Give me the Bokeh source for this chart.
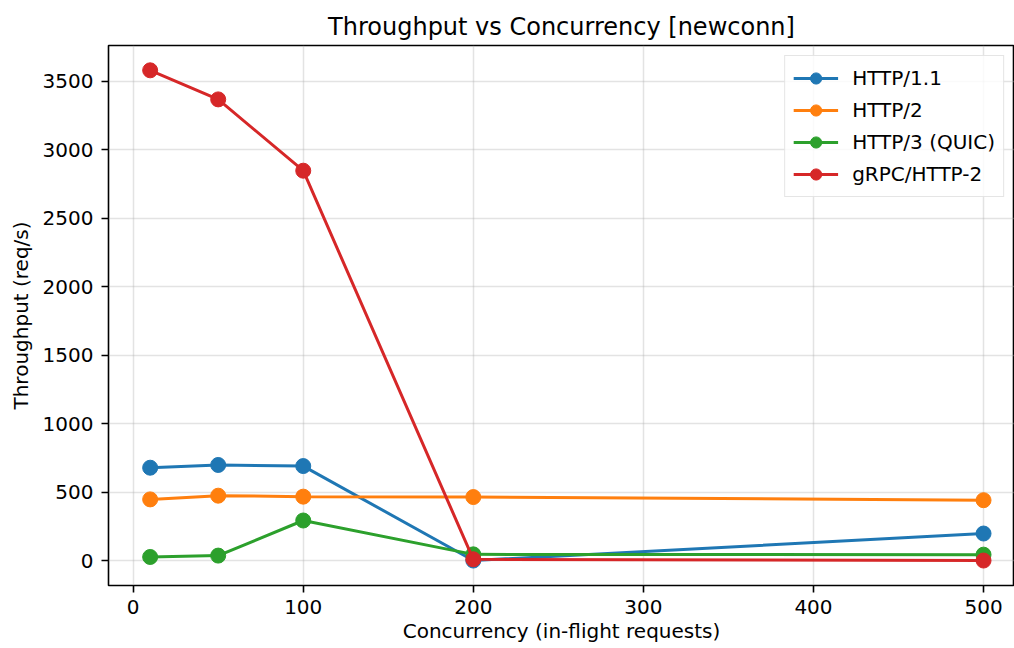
from bokeh.plotting import figure
from bokeh.models import Range1d, FixedTicker, Legend, LegendItem
from bokeh.embed import file_html
from bokeh.resources import INLINE

# ---- data ----
concurrency = [10, 50, 100, 200, 500]
http11 = [680, 700, 692, 3, 200]
http2 = [449, 476, 469, 466, 443]
http3 = [29, 39, 295, 48, 46]
grpc = [3578, 3366, 2846, 12, 3]

series_names = ["HTTP/1.1", "HTTP/2", "HTTP/3 (QUIC)", "gRPC/HTTP-2"]
series_values = [http11, http2, http3, grpc]
colors = ["#1f77b4", "#ff7f0e", "#2ca02c", "#d62728"]

x_ticks = [0, 100, 200, 300, 400, 500]
y_ticks = [0, 500, 1000, 1500, 2000, 2500, 3000, 3500]

FONT = "DejaVu Sans"

p = figure(
    width=1014, height=648,
    output_backend="svg", toolbar_location=None,
    x_range=Range1d(-14.5, 518.2), y_range=Range1d(-179, 3759),
    title="Throughput vs Concurrency [newconn]",
    min_border_left=108, min_border_right=0, min_border_top=45, min_border_bottom=63,
)

p.title.align = "center"
p.title.text_font = FONT
p.title.text_font_size = "24px"
p.title.text_font_style = "normal"
p.title.text_color = "#000000"

p.outline_line_color = "#000000"
p.outline_line_width = 1.6
p.outline_line_alpha = 1.0

for ax in (p.xaxis[0], p.yaxis[0]):
    ax.axis_line_color = None
    ax.major_tick_in = 0
    ax.major_tick_out = 7
    ax.major_tick_line_width = 1.6
    ax.major_tick_line_color = "#000000"
    ax.minor_tick_line_color = None
    ax.major_label_text_font = FONT
    ax.major_label_text_font_size = "20px"
    ax.major_label_text_color = "#000000"
    ax.axis_label_text_font = FONT
    ax.axis_label_text_font_size = "20px"
    ax.axis_label_text_font_style = "normal"
    ax.axis_label_text_color = "#000000"

p.xaxis[0].major_label_standoff = 7
p.xaxis[0].axis_label_standoff = 2
p.yaxis[0].major_label_standoff = 8
p.yaxis[0].axis_label_standoff = 7

p.xaxis[0].ticker = FixedTicker(ticks=x_ticks)
p.yaxis[0].ticker = FixedTicker(ticks=y_ticks)
p.xaxis[0].axis_label = "Concurrency (in-flight requests)"
p.yaxis[0].axis_label = "Throughput (req/s)"

p.xgrid[0].ticker = FixedTicker(ticks=x_ticks)
p.ygrid[0].ticker = FixedTicker(ticks=y_ticks)
for g in (p.xgrid[0], p.ygrid[0]):
    g.grid_line_color = "#b0b0b0"
    g.grid_line_alpha = 0.35
    g.grid_line_width = 1.5

items = []
for name, vals, col in zip(series_names, series_values, colors):
    ln = p.line(concurrency, vals, line_color=col, line_width=3)
    sc = p.scatter(concurrency, vals, size=15, fill_color=col, line_color=col, marker="circle")
    items.append(LegendItem(label=name, renderers=[ln, sc]))

legend = Legend(items=items, location="top_right")
legend.label_text_font = FONT
legend.label_text_font_size = "20px"
legend.label_text_color = "#000000"
legend.glyph_width = 45
legend.glyph_height = 28
legend.label_height = 28
legend.spacing = 4
legend.label_standoff = 14
legend.padding = 8
legend.margin = 10
legend.border_line_color = "#cccccc"
legend.border_line_width = 1.5
legend.background_fill_color = "#ffffff"
legend.background_fill_alpha = 0.8
p.add_layout(legend)

open("out.html", "w").write(file_html(p, INLINE))
